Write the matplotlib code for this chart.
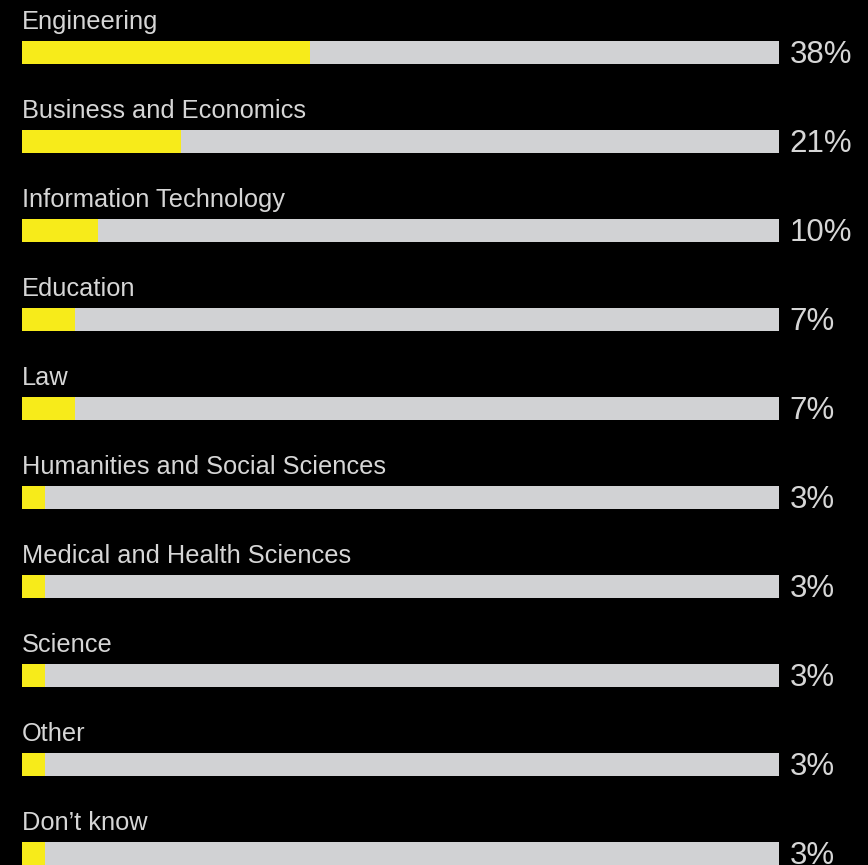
import matplotlib
matplotlib.use("Agg")
import matplotlib.pyplot as plt

categories = [
    "Engineering",
    "Business and Economics",
    "Information Technology",
    "Education",
    "Law",
    "Humanities and Social Sciences",
    "Medical and Health Sciences",
    "Science",
    "Other",
    "Don\u2019t know",
]
values = [38, 21, 10, 7, 7, 3, 3, 3, 3, 3]
value_labels = ["38%", "21%", "10%", "7%", "7%", "3%", "3%", "3%", "3%", "3%"]

BG = "#000000"
TRACK = "#D1D2D4"
FILL = "#F7EB1A"
TEXT = "#D6D6D6"

plt.rcParams["font.family"] = ["Liberation Sans", "DejaVu Sans"]

W, H = 868, 865
fig = plt.figure(figsize=(W / 100, H / 100), dpi=100, facecolor=BG)

# axes spans the bar track horizontally; one y unit = one row pitch (89 px)
left_px, right_px = 22, 779
pitch = 89.0
first_center = 52.5
ax = fig.add_axes([left_px / W, 0, (right_px - left_px) / W, 1])
ax.set_facecolor("none")
ax.set_xlim(0, 100)
ax.set_ylim((H - first_center) / pitch, -first_center / pitch)
ax.axis("off")

bar_h = 23 / pitch
rows = list(range(len(categories)))
ax.barh(rows, [100] * len(categories), height=bar_h, color=TRACK, left=0)
ax.barh(rows, values, height=bar_h, color=FILL, left=0)

for i, (cat, lab) in enumerate(zip(categories, value_labels)):
    ax.text(0, i - 23.2 / pitch, cat, ha="left", va="baseline",
            fontsize=18.3, color=TEXT)
    ax.annotate(lab, xy=(100, i + 10.2 / pitch), xytext=(7.5, 0),
                textcoords="offset points", ha="left", va="baseline",
                fontsize=22.5, color=TEXT, annotation_clip=False)

fig.savefig("out.png", dpi=100, facecolor=BG)
